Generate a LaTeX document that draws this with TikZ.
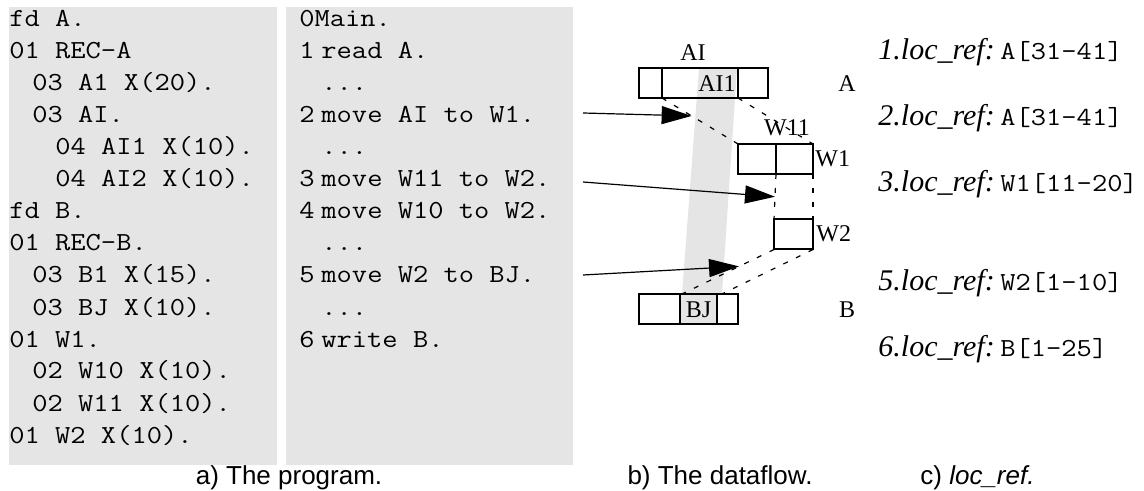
\documentclass[tikz,border=0pt]{standalone}
\usepackage{fontspec}
\setmainfont{Liberation Serif}
\setsansfont{Liberation Sans}
\setmonofont{Latin Modern Mono}[FakeStretch=1.14]
\usetikzlibrary{positioning, arrows.meta, calc}

\definecolor{panelgrey}{RGB}{229,229,229}
\newcommand{\codefont}{\fontsize{13}{16}\selectfont\ttfamily}

\begin{document}
\begin{tikzpicture}[x=0.5pt, y=-0.5pt,
    code/.style={anchor=base west, inner sep=0pt, font=\codefont},
    cell/.style={draw, line width=1pt, minimum height=15pt, inner sep=0pt, outer sep=0pt},
    lbl/.style={anchor=base, inner sep=0pt, font=\fontsize{12}{14}\selectfont},
    ref/.style={anchor=base west, inner sep=0pt, font=\fontsize{15}{18}\selectfont},
    caption/.style={anchor=base, inner sep=0pt, font=\fontsize{13}{16}\selectfont\sffamily},
    link/.style={dash pattern=on 2.5pt off 4.5pt, line width=0.6pt},
    flow/.style={-{Triangle[length=15pt, width=9pt]}, line width=0.6pt}]

  \useasboundingbox (0,0) rectangle (1144,491);

  % program panels
  \fill[panelgrey] (9,7) rectangle (277,465);
  \fill[panelgrey] (286,7) rectangle (573,465);

  % data division
  \node[code] (fda) at (9,27) {fd A.};
  \node[code] (reca) at (9,59) {01 REC-A};
  \node[code] (a1) at (32,91) {03 A1 X(20).};
  \node[code] (ai) at (32,123) {03 AI.};
  \node[code] (ai1) at (55,155) {04 AI1 X(10).};
  \node[code] (ai2) at (55,187) {04 AI2 X(10).};
  \node[code] (fdb) at (9,219) {fd B.};
  \node[code] (recb) at (9,251) {01 REC-B.};
  \node[code] (b1) at (32,283) {03 B1 X(15).};
  \node[code] (bj) at (32,315) {03 BJ X(10).};
  \node[code] (w1) at (9,347) {01 W1.};
  \node[code] (w10) at (32,379) {02 W10 X(10).};
  \node[code] (w11) at (32,411) {02 W11 X(10).};
  \node[code] (w2) at (9,443) {01 W2 X(10).};

  % procedure division
  \node[code] (main) at (299,27) {0Main.};
  \node[code] (n1) at (299,59) {1};
  \node[code, base right=3pt of n1] (s1) {read A.};
  \node[code] (d1) at (321,91) {...};
  \node[code] (n2) at (299,123) {2};
  \node[code, base right=3pt of n2] (s2) {move AI to W1.};
  \node[code] (d2) at (321,155) {...};
  \node[code] (n3) at (299,187) {3};
  \node[code, base right=3pt of n3] (s3) {move W11 to W2.};
  \node[code] (n4) at (299,219) {4};
  \node[code, base right=3pt of n4] (s4) {move W10 to W2.};
  \node[code] (d3) at (321,251) {...};
  \node[code] (n5) at (299,283) {5};
  \node[code, base right=3pt of n5] (s5) {move W2 to BJ.};
  \node[code] (d4) at (321,315) {...};
  \node[code] (n6) at (299,347) {6};
  \node[code, base right=3pt of n6] (s6) {write B.};

  % dataflow
  \coordinate (bandbl) at (682,294);
  \coordinate (bandbr) at (722,294);
  \fill[panelgrey] (699,68) -- (737,68) -- (bandbr) -- (bandbl) -- cycle;

  \node[cell, minimum width=11.5pt] (ca1) at (650.5,83) {};
  \node[cell, minimum width=38pt, right=0pt of ca1] (cai) {};
  \node[cell, minimum width=15pt, right=0pt of cai] (ca3) {};
  \node[cell, minimum width=19pt] (cw10) at (757,159) {};
  \node[cell, minimum width=18.5pt, right=0pt of cw10] (cw11) {};
  \node[cell, minimum width=19.5pt] (cw2) at (793.5,234.5) {};
  \node[cell, minimum width=20.5pt] (cb1) at (659.5,309.5) {};
  \node[cell, minimum width=18.5pt, fill=panelgrey, right=0pt of cb1] (cbj) {};
  \node[cell, minimum width=10.5pt, right=0pt of cbj] (cb3) {};

  \node[lbl] (lai) at (693,61) {AI};
  \node[lbl] (lai1) at (717,92) {AI1};
  \node[lbl] (la) at (847,92) {A};
  \node[lbl] (lw11) at (787,136) {W11};
  \node[lbl, anchor=base west] (lw1) at (815,167) {W1};
  \node[lbl, anchor=base west] (lw2) at (816,242) {W2};
  \node[lbl] (lbj) at (698.5,318) {BJ};
  \node[lbl] (lb) at (847,318) {B};

  \draw[link] (cai.south west) -- (cw10.north west);
  \draw[link] (cai.south east) -- (cw11.north east);
  \draw[link] (cw11.south west) -- (cw2.north west);
  \draw[link] (cw11.south east) -- (cw2.north east);
  \draw[link] (cw2.south west) -- (bandbl);
  \draw[link] (cw2.south east) -- (bandbr);

  \coordinate (from2) at (583,113);
  \coordinate (from3) at (583,182);
  \coordinate (from5) at (583,275);
  \coordinate (tip2) at ($(cai.south west)!0.39!(cw10.north west)$);
  \coordinate (tip3) at ($(cw11.south west)!0.5!(cw2.north west)$);
  \coordinate (tip5) at ($(cw2.south west)!0.38!(bandbl)$);
  \draw[flow] (from2) -- (tip2);
  \draw[flow] (from3) -- (tip3);
  \draw[flow] (from5) -- (tip5);

  % loc_ref column
  \node[ref] (ref1) at (878,60) {\makebox[61pt][l]{\textit{1.loc\_ref:}}{\codefont A[31-41]}};
  \node[ref] (ref2) at (878,126) {\makebox[61pt][l]{\textit{2.loc\_ref:}}{\codefont A[31-41]}};
  \node[ref] (ref3) at (878,192) {\makebox[61pt][l]{\textit{3.loc\_ref:}}{\codefont W1[11-20]}};
  \node[ref] (ref5) at (878,291) {\makebox[61pt][l]{\textit{5.loc\_ref:}}{\codefont W2[1-10]}};
  \node[ref] (ref6) at (878,357) {\makebox[61pt][l]{\textit{6.loc\_ref:}}{\codefont B[1-25]}};

  % captions
  \node[caption] (capa) at (289,484) {a) The program.};
  \node[caption] (capb) at (720,484) {b) The dataflow.};
  \node[caption, anchor=base west] (capc) at (920,484) {c) \textit{loc\_ref.}};
\end{tikzpicture}
\end{document}
